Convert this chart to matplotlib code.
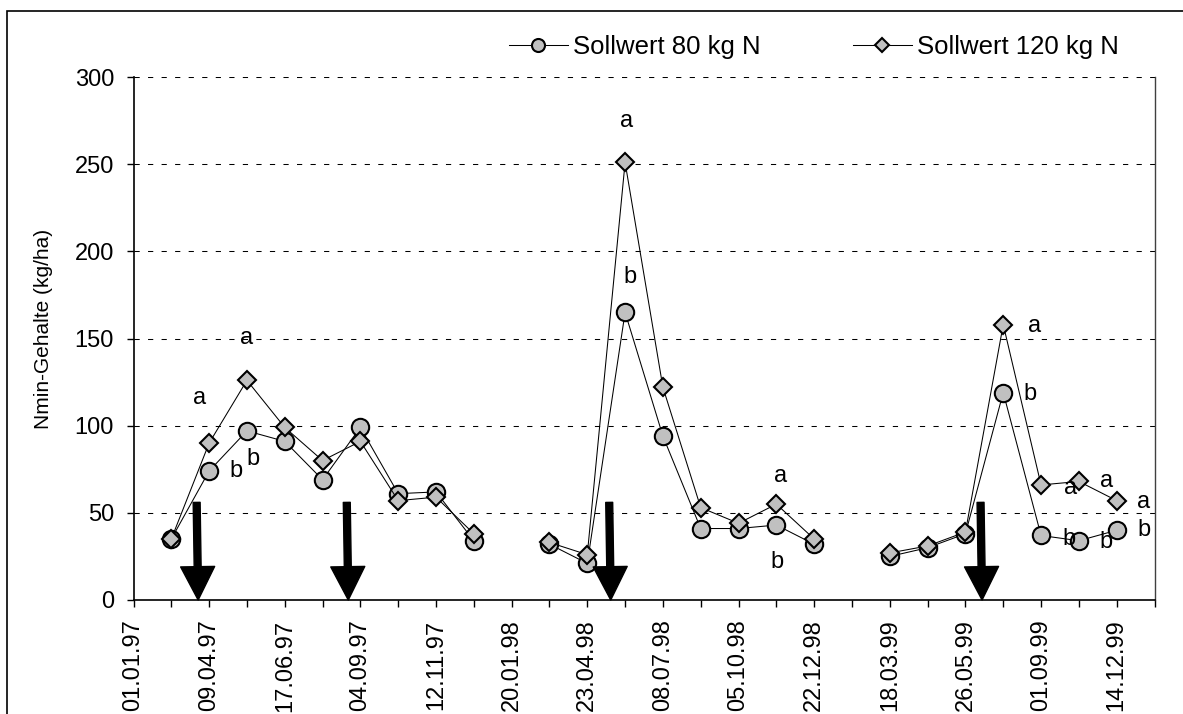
import numpy as np
import matplotlib
matplotlib.use("Agg")
import matplotlib.pyplot as plt
from matplotlib.patches import Rectangle

plt.rcParams['font.family'] = ['Liberation Sans', 'DejaVu Sans']

# Probenahmetermine (Kategorieachse, Beschriftung jede 2. Marke)
date_labels = ['01.01.97', '09.04.97', '17.06.97', '04.09.97', '12.11.97',
               '20.01.98', '23.04.98', '08.07.98', '05.10.98', '22.12.98',
               '18.03.99', '26.05.99', '01.09.99', '14.12.99']
n_cat = 27
sample_idx = list(range(1, 27))

nan = np.nan
soll80 = [35, 74, 97, 91, 69, 99, 61, 62, 34, nan, 32, 21, 165, 94, 41, 41,
          43, 32, nan, 25, 30, 38, 119, 37, 34, 40]
soll120 = [35, 90, 126, 99, 80, 91, 57, 59, 38, nan, 33, 26, 251, 122, 53, 44,
           55, 35, nan, 27, 31, 39, 158, 66, 68, 57]

# Signifikanzbuchstaben
sig_text = ['a', 'a', 'b', 'b', 'a', 'b', 'a', 'b', 'a', 'b', 'a', 'b',
            'a', 'b', 'a', 'b']
sig_x = [1.76, 2.98, 2.72, 3.15, 13.03, 13.13, 17.12, 17.03, 23.82, 23.72,
         24.79, 24.73, 25.73, 25.73, 26.71, 26.71]
sig_y = [116, 150, 74, 81, 275, 185, 71, 22, 157, 118, 64, 35, 68, 33, 56, 40]

# Duengungstermine (Pfeile)
arrow_x = [1.71, 5.68, 12.62, 22.44]
arrow_top = 56

fig = plt.figure(figsize=(11.83, 7.14), dpi=100)
ax = fig.add_axes([133.5 / 1183, 1 - 600 / 714, 1021 / 1183, 523 / 714])

ax.plot(sample_idx, soll80, color='black', lw=0.75, marker='o', ms=12.5,
        mfc='#c0c0c0', mec='black', mew=1.5, label='Sollwert 80 kg N', zorder=3)
ax.plot(sample_idx, soll120, color='black', lw=0.75, marker='D', ms=9.5,
        mfc='#c0c0c0', mec='black', mew=1.5, label='Sollwert 120 kg N', zorder=4)

for t, x, y in zip(sig_text, sig_x, sig_y):
    ax.text(x, y, t, fontsize=17, ha='center', va='center', zorder=5)

for x in arrow_x:
    ax.annotate('', xy=(x, 0), xytext=(x - 0.04, arrow_top),
                arrowprops=dict(arrowstyle='simple,head_length=24,head_width=24.5,tail_width=5',
                                mutation_scale=1, fc='black', ec='black',
                                shrinkA=0, shrinkB=0), zorder=6)

ax.set_xlim(0, n_cat)
ax.set_ylim(0, 300)
ax.set_yticks(np.arange(0, 301, 50))
ax.set_xticks(range(0, n_cat + 1))
xlabels = []
for i in range(n_cat + 1):
    xlabels.append(date_labels[i // 2] if i % 2 == 0 and i // 2 < len(date_labels) else '')
ax.set_xticklabels(xlabels, rotation=90, va='top', ha='center')
ax.tick_params(axis='both', direction='out', length=5, width=1, labelsize=17,
               pad=9, color='black')

ax.yaxis.grid(True, color='black', lw=0.75, ls=(0, (5, 8)))
ax.set_axisbelow(True)
ax.spines['top'].set_visible(False)
ax.spines['right'].set_color('#404040')
ax.spines['right'].set_linewidth(1)
ax.spines['left'].set_linewidth(1.2)
ax.spines['bottom'].set_linewidth(1.2)

ax.set_ylabel('Nmin-Gehalte (kg/ha)', fontsize=15)
ax.yaxis.set_label_coords(-0.0788, 0.518)

fig.legend(loc='center right', bbox_to_anchor=(1119 / 1183, 1 - 47 / 714),
           ncol=2, frameon=False, fontsize=18.5, handlelength=2.3,
           handletextpad=0.2, columnspacing=3.6, markerscale=0.75,
           borderpad=0, borderaxespad=0)

fig.add_artist(Rectangle((7 / 1183, -0.1), 1.2, 1.1 - 11 / 714,
                         transform=fig.transFigure, fill=False,
                         ec='black', lw=1.2))

fig.savefig('out.png', dpi=100)
